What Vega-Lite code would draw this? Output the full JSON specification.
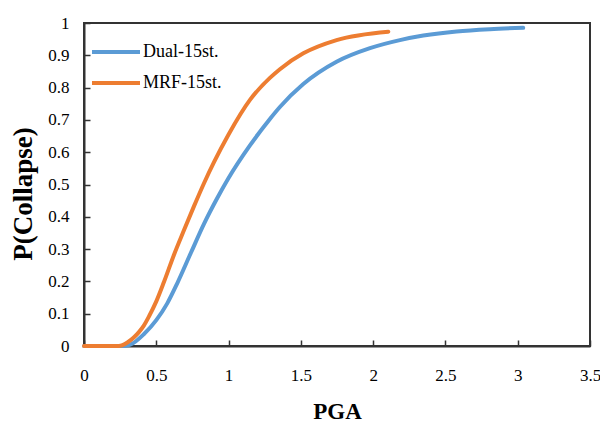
{
  "$schema": "https://vega.github.io/schema/vega-lite/v6.json",
  "width": 506,
  "height": 323,
  "autosize": {"type": "none"},
  "padding": {"left": 84, "top": 23, "right": 10, "bottom": 78},
  "background": "white",
  "config": {
    "font": "Liberation Serif",
    "view": {"stroke": "#333333", "strokeWidth": 2},
    "axis": {"labelFont": "Liberation Serif", "titleFont": "Liberation Serif", "domainColor": "#333333", "domainWidth": 2, "tickColor": "#333333"},
    "legend": {"labelFont": "Liberation Serif"}
  },
  "data": {
    "values": [
      {"series": "Dual-15st.", "pga": 0, "p": 0},
      {"series": "Dual-15st.", "pga": 0.28, "p": 0},
      {"series": "Dual-15st.", "pga": 0.32, "p": 0.004},
      {"series": "Dual-15st.", "pga": 0.415, "p": 0.037},
      {"series": "Dual-15st.", "pga": 0.5, "p": 0.08},
      {"series": "Dual-15st.", "pga": 0.576, "p": 0.132},
      {"series": "Dual-15st.", "pga": 0.645, "p": 0.194},
      {"series": "Dual-15st.", "pga": 0.738, "p": 0.287},
      {"series": "Dual-15st.", "pga": 0.83, "p": 0.378},
      {"series": "Dual-15st.", "pga": 0.922, "p": 0.458},
      {"series": "Dual-15st.", "pga": 1.0, "p": 0.52},
      {"series": "Dual-15st.", "pga": 1.148, "p": 0.621},
      {"series": "Dual-15st.", "pga": 1.286, "p": 0.703},
      {"series": "Dual-15st.", "pga": 1.355, "p": 0.74},
      {"series": "Dual-15st.", "pga": 1.517, "p": 0.811},
      {"series": "Dual-15st.", "pga": 1.747, "p": 0.88},
      {"series": "Dual-15st.", "pga": 1.978, "p": 0.922},
      {"series": "Dual-15st.", "pga": 2.185, "p": 0.947},
      {"series": "Dual-15st.", "pga": 2.347, "p": 0.961},
      {"series": "Dual-15st.", "pga": 2.577, "p": 0.974},
      {"series": "Dual-15st.", "pga": 2.808, "p": 0.981},
      {"series": "Dual-15st.", "pga": 3.038, "p": 0.985},
      {"series": "MRF-15st.", "pga": 0, "p": 0},
      {"series": "MRF-15st.", "pga": 0.24, "p": 0},
      {"series": "MRF-15st.", "pga": 0.3, "p": 0.011},
      {"series": "MRF-15st.", "pga": 0.346, "p": 0.027},
      {"series": "MRF-15st.", "pga": 0.38, "p": 0.043},
      {"series": "MRF-15st.", "pga": 0.415, "p": 0.064},
      {"series": "MRF-15st.", "pga": 0.45, "p": 0.092},
      {"series": "MRF-15st.", "pga": 0.5, "p": 0.138},
      {"series": "MRF-15st.", "pga": 0.553, "p": 0.198},
      {"series": "MRF-15st.", "pga": 0.622, "p": 0.282},
      {"series": "MRF-15st.", "pga": 0.692, "p": 0.359},
      {"series": "MRF-15st.", "pga": 0.761, "p": 0.433},
      {"series": "MRF-15st.", "pga": 0.83, "p": 0.504},
      {"series": "MRF-15st.", "pga": 0.9, "p": 0.57},
      {"series": "MRF-15st.", "pga": 1.0, "p": 0.655},
      {"series": "MRF-15st.", "pga": 1.148, "p": 0.762},
      {"series": "MRF-15st.", "pga": 1.286, "p": 0.83},
      {"series": "MRF-15st.", "pga": 1.355, "p": 0.857},
      {"series": "MRF-15st.", "pga": 1.517, "p": 0.906},
      {"series": "MRF-15st.", "pga": 1.747, "p": 0.947},
      {"series": "MRF-15st.", "pga": 2.105, "p": 0.973}
    ]
  },
  "mark": {"type": "line", "strokeWidth": 4, "interpolate": "monotone", "strokeCap": "round"},
  "encoding": {
    "x": {
      "field": "pga",
      "type": "quantitative",
      "scale": {"domain": [0, 3.5], "nice": false},
      "axis": {
        "title": "PGA",
        "values": [0, 0.5, 1, 1.5, 2, 2.5, 3, 3.5],
        "format": ".1~f",
        "grid": false,
        "labelFontSize": 17,
        "labelColor": "black",
        "labelFlush": false,
        "labelOverlap": false,
        "tickSize": -6,
        "tickWidth": 1.5,
        "labelPadding": 27,
        "titleFontSize": 23,
        "titleFontWeight": "bold",
        "titleColor": "black",
        "titleX": 253,
        "titleY": 72,
        "titleAlign": "center",
        "titleBaseline": "alphabetic"
      }
    },
    "y": {
      "field": "p",
      "type": "quantitative",
      "scale": {"domain": [0, 1], "nice": false},
      "axis": {
        "title": "P(Collapse)",
        "values": [0, 0.1, 0.2, 0.3, 0.4, 0.5, 0.6, 0.7, 0.8, 0.9, 1],
        "format": ".1~f",
        "grid": false,
        "labelFontSize": 17,
        "labelColor": "black",
        "labelFlush": false,
        "labelOverlap": false,
        "labelBaseline": "middle",
        "tickSize": -6,
        "tickWidth": 1.5,
        "labelPadding": 21,
        "titleFontSize": 27,
        "titleFontWeight": "bold",
        "titleColor": "black",
        "titleAngle": -90,
        "titleX": -52.5,
        "titleY": 170.5,
        "titleAlign": "center",
        "titleBaseline": "alphabetic"
      }
    },
    "color": {
      "field": "series",
      "type": "nominal",
      "scale": {"domain": ["Dual-15st.", "MRF-15st."], "range": ["#5B9BD5", "#ED7D31"]},
      "legend": {
        "title": null,
        "orient": "none",
        "legendX": 6,
        "legendY": 19,
        "padding": 0,
        "symbolType": "stroke",
        "symbolSize": 2304,
        "symbolStrokeWidth": 4,
        "symbolOffset": 0,
        "clipHeight": 20,
        "labelFontSize": 18,
        "labelColor": "black",
        "labelOffset": 1,
        "rowPadding": 11
      }
    }
  }
}
